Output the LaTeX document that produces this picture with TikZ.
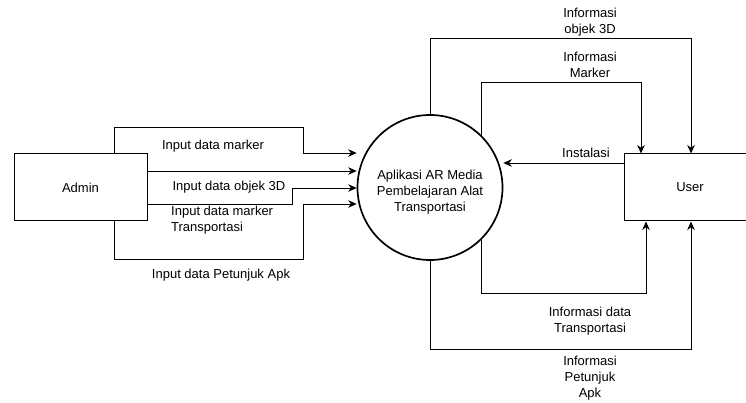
\documentclass[tikz,border=0pt]{standalone}
\usepackage{fontspec}
\setmainfont{Liberation Sans}
\usetikzlibrary{arrows.meta}

\tikzset{
  entity/.style={draw, line width=1pt, minimum width=133pt, minimum height=67pt, inner sep=0pt},
  process/.style={draw, circle, line width=1.7pt, minimum size=145pt, inner sep=0pt, align=center},
  flow/.style={line width=0.9pt, -{Stealth[length=8.5pt,width=7.5pt]}},
  lbl/.style={inner sep=0pt, align=center}
}

\begin{document}
\begin{tikzpicture}[x=1pt,y=-1pt, font=\fontsize{13}{16}\selectfont]  % Units in pixels, y pointing down
    \useasboundingbox (0,0) rectangle (746,403);
    \clip (0,0) rectangle (746,403);

    % Draw the external entities and the process
    \node[entity] (admin) at (80.5,187.5) {Admin};
    \node[entity, minimum width=132pt] (user) at (690,187.5) {User};
    \node[process] (proc) at (430,187.5) {\rule{0pt}{19pt}Aplikasi AR Media\\Pembelajaran Alat\\Transportasi};

    % Draw the flows from Admin into the process
    \draw[flow] (114,0 |- admin.north) |- (303,127) |- (proc.west |- 0,153);
    \draw[flow] (admin.east |- 0,171) -- (proc.west |- 0,171);
    \draw[flow] (admin.east |- 0,204) -- (292,204) |- (proc.west |- 0,188);
    \draw[flow] (114,0 |- admin.south) |- (303,259) |- (proc.west |- 0,204);

    % Draw the flows between the process and User
    \draw[flow] (proc.north) |- (691,38) -- (691,0 |- user.north);
    \draw[flow] (proc.45) |- (641,82) -- (641,0 |- user.north);
    \draw[flow] (user.west |- 0,163) -- (proc.east |- 0,163);
    \draw[flow] (proc.-45) |- (646,293) -- (646,0 |- user.south);
    \draw[flow] (proc.south) |- (691,349) -- (691,0 |- user.south);

    % Draw the labels of the flows
    \node[lbl] (lmarker) at (213,146) {Input data marker};
    \node[lbl] (lobjek) at (229,187) {Input data objek 3D};
    \node[lbl, anchor=west, align=left] (ltrans) at (171,220.5) {Input data marker\\Transportasi};
    \node[lbl] (lpetunjuk) at (221,275) {Input data Petunjuk Apk};
    \node[lbl] (iobjek) at (590,22) {Informasi\\objek 3D};
    \node[lbl] (imarker) at (590,65) {Informasi\\Marker};
    \node[lbl] (iinstal) at (586,153) {Instalasi};
    \node[lbl] (itrans) at (590,321) {Informasi data\\Transportasi};
    \node[lbl] (ipetunjuk) at (590,378) {Informasi\\Petunjuk\\Apk};

\end{tikzpicture}
\end{document}
